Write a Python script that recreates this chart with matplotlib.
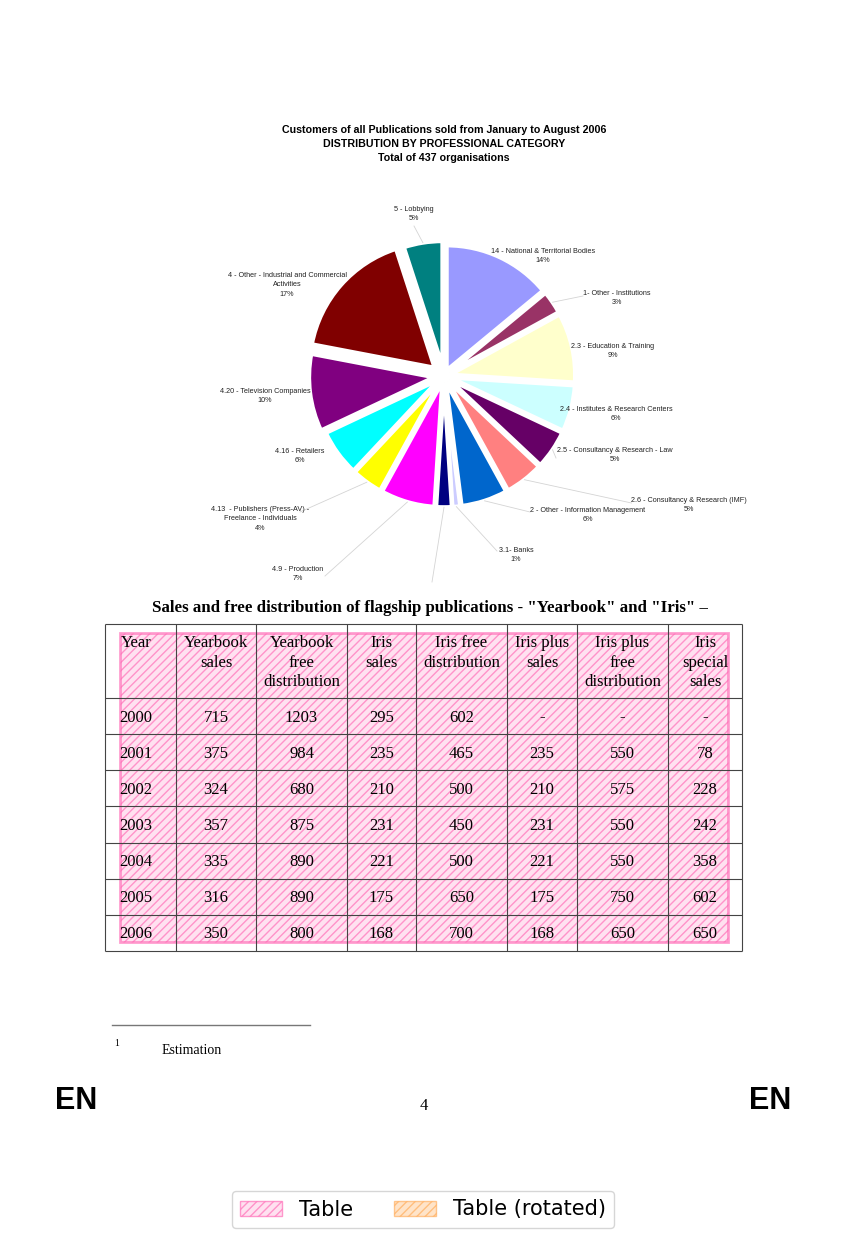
import numpy as np
import matplotlib.pyplot as plt
from matplotlib.patches import Rectangle, Patch

# pie data (share of 437 organisations, %)
pie_names = ['14 - National & Territorial Bodies', '1- Other - Institutions',
             '2.3 - Education & Training', '2.4 - Institutes & Research Centers',
             '2.5 - Consultancy & Research - Law', '2.6 - Consultancy & Research (IMF)',
             '2 - Other - Information Management', '3.1- Banks', '',
             '4.9 - Production', '4.13  - Publishers (Press-AV) -\nFreelance - Individuals',
             '4.16 - Retailers', '4.20 - Television Companies',
             '4 - Other - Industrial and Commercial\nActivities', '5 - Lobbying']
pie_shares = [14, 3, 9, 6, 5, 5, 6, 1, 2, 7, 4, 6, 10, 17, 5]
pie_colors = ['#9999FF', '#993366', '#FFFFCC', '#CCFFFF', '#660066', '#FF8080',
              '#0066CC', '#CCCCFF', '#000080', '#FF00FF', '#FFFF00', '#00FFFF',
              '#800080', '#800000', '#008080']

# table data
years = ['2000', '2001', '2002', '2003', '2004', '2005', '2006']
yearbook_sales = [715, 375, 324, 357, 335, 316, 350]
yearbook_free = [1203, 984, 680, 875, 890, 890, 800]
iris_sales = [295, 235, 210, 231, 221, 175, 168]
iris_free = [602, 465, 500, 450, 500, 650, 700]
iris_plus_sales = [None, 235, 210, 231, 221, 175, 168]
iris_plus_free = [None, 550, 575, 550, 550, 750, 650]
iris_special = [None, 78, 228, 242, 358, 602, 650]
headers = ['Year', 'Yearbook\nsales', 'Yearbook\nfree\ndistribution', 'Iris\nsales',
           'Iris free\ndistribution', 'Iris plus\nsales', 'Iris plus\nfree\ndistribution',
           'Iris\nspecial\nsales']

W, H = 846, 1244
fig = plt.figure(figsize=(W / 100, H / 100), dpi=100)

page = fig.add_axes([0, 0, 1, 1])
page.set_xlim(0, W)
page.set_ylim(H, 0)
page.axis('off')

sans = 'Liberation Sans'
serif = 'Liberation Serif'

# ---- pie chart ----
page.text(444, 144, 'Customers of all Publications sold from January to August 2006\n'
          'DISTRIBUTION BY PROFESSIONAL CATEGORY\nTotal of 437 organisations',
          ha='center', va='center', family=sans, fontweight='bold', fontsize=7.7,
          linespacing=1.55)

cx, cy, unit = 444, 376, 125
pax = fig.add_axes([(cx - 2 * unit) / W, 1 - (cy + 2 * unit) / H, 4 * unit / W, 4 * unit / H])
pax.patch.set_alpha(0)

explode = [0.05] * 15
explode[12] = 0.08
explode[13] = 0.1
explode[14] = 0.08
wedges, _ = pax.pie(pie_shares, colors=pie_colors, startangle=90, counterclock=False,
                    explode=explode, radius=1,
                    wedgeprops=dict(edgecolor='white', linewidth=3))
pax.set_xlim(-2, 2)
pax.set_ylim(-2, 2)
pax.axis('off')

label_pos = [(0.792, 0.96), (1.384, 0.624), (1.352, 0.2), (1.376, -0.304),
             (1.368, -0.632), (1.96, -1.032), (1.152, -1.112), (0.576, -1.432),
             None, (-1.168, -1.584), (-1.472, -1.144), (-1.152, -0.64),
             (-1.432, -0.16), (-1.256, 0.728), (-0.24, 1.296)]
leader_ends = {1: (1.112, 0.64), 4: (0.896, -0.656), 5: (1.50, -1.016),
               6: (0.688, -1.088), 7: (0.424, -1.40), 8: (-0.096, -1.648),
               9: (-0.952, -1.60), 10: (-1.152, -1.088), 14: (-0.24, 1.2)}

for i, (ex, ey) in leader_ends.items():
    w = wedges[i]
    a = np.radians((w.theta1 + w.theta2) / 2)
    x0 = w.center[0] + w.r * np.cos(a)
    y0 = w.center[1] + w.r * np.sin(a)
    pax.plot([x0, ex], [y0, ey], color='#d4d4d4', lw=0.6)

for name, share, pos in zip(pie_names, pie_shares, label_pos):
    if pos is None:
        continue
    pax.text(pos[0], pos[1], f'{name}\n{share}%', ha='center', va='center',
             family=sans, fontsize=5.2, linespacing=1.5, color='#222222')

# ---- table ----
page.text(430, 608, 'Sales and free distribution of flagship publications - '
          '"Yearbook" and "Iris" \u2013', ha='center', va='center', family=serif,
          fontweight='bold', fontsize=12.2)

col_edges = [105, 176, 256, 347, 416, 507, 577, 668, 742]
row_edges = [624, 698, 734, 770, 806, 843, 879, 915, 951]
page.vlines(col_edges, row_edges[0], row_edges[-1], color='#444444', lw=0.8)
page.hlines(row_edges, col_edges[0], col_edges[-1], color='#444444', lw=0.8)

cols = [years, yearbook_sales, yearbook_free, iris_sales, iris_free,
        iris_plus_sales, iris_plus_free, iris_special]
for j, head in enumerate(headers):
    xc = (col_edges[j] + col_edges[j + 1]) / 2
    if j == 0:
        page.text(121, 635, head, ha='left', va='top', family=serif, fontsize=12,
                  linespacing=1.3)
    else:
        page.text(xc, 635, head, ha='center', va='top', family=serif, fontsize=12,
                  linespacing=1.3, multialignment='center')
    for r, v in enumerate(cols[j]):
        yc = (row_edges[r + 1] + row_edges[r + 2]) / 2 + 1.5
        txt = '-' if v is None else str(v)
        if j == 0:
            page.text(119, yc, txt, ha='left', va='center', family=serif, fontsize=12)
        else:
            page.text(xc, yc, txt, ha='center', va='center', family=serif, fontsize=12)

pink_face = (1.0, 0.41, 0.71, 0.2)
pink_edge = (1.0, 0.41, 0.71, 0.65)
orange_face = (1.0, 0.65, 0.3, 0.3)
orange_edge = (1.0, 0.65, 0.3, 0.6)
page.add_patch(Rectangle((120, 633), 608, 309, facecolor=pink_face, edgecolor=pink_edge,
                         hatch='////', lw=2))

# ---- footer ----
page.plot([112, 310], [1025, 1025], color='#777777', lw=1)
page.text(114, 1043, '1', family=serif, fontsize=7, va='center')
page.text(162, 1050, 'Estimation', family=serif, fontsize=10, va='center')
page.text(424, 1106, '4', family=serif, fontsize=12, ha='center', va='center')
page.text(55, 1101, 'EN', family=sans, fontweight='bold', fontsize=22, va='center')
page.text(791, 1101, 'EN', family=sans, fontweight='bold', fontsize=22, va='center',
          ha='right')

handles = [Patch(facecolor=pink_face, edgecolor=pink_edge, hatch='////', label='Table'),
           Patch(facecolor=orange_face, edgecolor=orange_edge, hatch='////',
                 label='Table (rotated)')]
fig.legend(handles=handles, loc='center', bbox_to_anchor=(423 / W, 1 - 1209.5 / H),
           ncol=2, fontsize=15, frameon=True)

fig.savefig('out.png', dpi=100)
